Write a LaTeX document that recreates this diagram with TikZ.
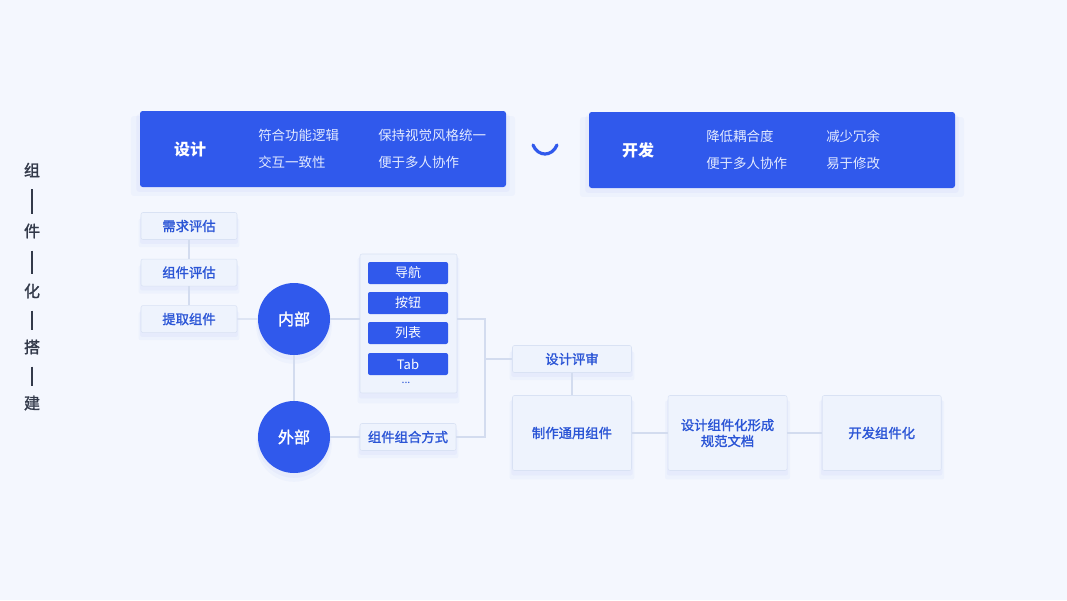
\documentclass[tikz,border=0pt]{standalone}
\usepackage{fontspec}
\setmainfont{Noto Sans CJK SC}
\newfontfamily\medfont{Noto Sans CJK SC}[FakeBold=1.6]
\usetikzlibrary{positioning, shadows}
\definecolor{bgpale}{HTML}{F4F7FE}
\definecolor{kitblue}{HTML}{3059EC}
\definecolor{kitline}{HTML}{D3DCEF}
\definecolor{kitfill}{HTML}{EEF3FD}
\definecolor{kitedge}{HTML}{D9E2F4}
\definecolor{kittext}{HTML}{2B55D6}
\definecolor{kitdark}{HTML}{333A4A}
\definecolor{headtext}{HTML}{E3EAFF}

\begin{document}
\begin{tikzpicture}[
    x=0.75pt, y=-0.75pt,
    softshadow/.style={drop shadow={shadow xshift=0pt, shadow yshift=-3pt, shadow scale=1.02, opacity=0.04, fill=kitblue},
                       drop shadow={shadow xshift=0pt, shadow yshift=-5pt, shadow scale=1.05, opacity=0.03, fill=kitblue}},
    headbox/.style={rectangle, fill=kitblue, rounded corners=2pt, minimum width=274.5pt, minimum height=57pt, softshadow},
    headtitle/.style={text=white, font=\fontsize{12}{14}\selectfont\bfseries},
    headitem/.style={anchor=west, inner sep=0pt, text=headtext, font=\fontsize{10.1}{12}\selectfont},
    stepbox/.style={rectangle, draw=kitedge, fill=kitfill, rounded corners=1.5pt, minimum width=72pt, minimum height=20.25pt, inner sep=0pt, text=kittext, font=\fontsize{10}{12}\selectfont\medfont, softshadow},
    bigbox/.style={stepbox, minimum width=89.25pt, minimum height=56.25pt, align=center},
    hub/.style={circle, fill=kitblue, minimum size=54pt, inner sep=0pt, text=white, font=\fontsize{12}{14}\selectfont\medfont, softshadow},
    chip/.style={rectangle, fill=kitblue, rounded corners=1.5pt, minimum width=60pt, minimum height=16.5pt, inner sep=0pt, text=white, font=\fontsize{9.75}{11}\selectfont},
    vchar/.style={inner sep=0pt, text=kitdark, font=\fontsize{12}{14}\selectfont\medfont},
    link/.style={draw=kitline, line width=1pt},
    vbar/.style={draw=kitdark, line width=0.9pt, shorten <=9pt, shorten >=7pt}
]
\fill[bgpale] (0,0) rectangle (1067,600);

% heading boxes
\node[headbox] (design) at (323,149) {};
\node[headbox] (develop) at (772,150) {};
\node[headtitle] (designname) at (190,149) {设计};
\node[headitem] (d1) at (258,135) {符合功能逻辑};
\node[headitem] (d2) at (378,135) {保持视觉风格统一};
\node[headitem] (d3) at (258,162) {交互一致性};
\node[headitem] (d4) at (378,162) {便于多人协作};
\node[headtitle] (developname) at (638,150) {开发};
\node[headitem] (e1) at (706,136) {降低耦合度};
\node[headitem] (e2) at (826,136) {减少冗余};
\node[headitem] (e3) at (706,163) {便于多人协作};
\node[headitem] (e4) at (826,163) {易于修改};
\draw[kitblue, line width=2.4pt, line cap=round] (533,145) .. controls (538,157) and (552,157) .. (557,145);

% left title
\node[vchar] (v1) at (32,170) {组};
\node[vchar] (v2) at (32,231) {件};
\node[vchar] (v3) at (32,291) {化};
\node[vchar] (v4) at (32,347) {搭};
\node[vchar] (v5) at (32,403) {建};
\foreach \a/\b in {v1/v2, v2/v3, v3/v4, v4/v5}
    \draw[vbar] (\a) -- (\b);

% inner branch
\node[stepbox] (need) at (189,226) {需求评估};
\node[stepbox, below=14.25pt of need] (assess) {组件评估};
\node[stepbox, below=14.25pt of assess] (extract) {提取组件};
\node[hub] (inner) at (294,319) {内部};
\node[hub] (outer) at (294,437) {外部};

\node[stepbox, minimum width=72.75pt, minimum height=104.25pt] (panel) at (408.5,323.5) {};
\node[chip] (nav) at (408,273) {导航};
\node[chip] (btn) at (408,303) {按钮};
\node[chip] (list) at (408,333) {列表};
\node[chip] (tab) at (408,364) {Tab};
\node[text=kittext, inner sep=0pt, font=\fontsize{8}{9}\selectfont] (more) at (406,383) {...};
\node[stepbox] (combo) at (408,437) {组件组合方式};

% review and output
\coordinate (joint) at (485,359);
\node[stepbox, minimum width=89.25pt] (review) at (572,359) {设计评审};
\node[bigbox] (make) at (572,433) {制作通用组件};
\node[bigbox, right=27pt of make] (spec) {设计组件化形成\\规范文档};
\node[bigbox, right=26pt of spec] (devkit) {开发组件化};

\draw[link] (need) -- (assess);
\draw[link] (assess) -- (extract);
\draw[link] (extract) -- (inner);
\draw[link] (inner) -- (outer);
\draw[link] (inner) -- (inner -| panel.west);
\draw[link] (outer) -- (combo);
\draw[link] (inner -| panel.east) -| (joint);
\draw[link] (combo.east) -| (joint);
\draw[link] (joint) -- (review);
\draw[link] (review) -- (make);
\draw[link] (make) -- (spec);
\draw[link] (spec) -- (devkit);
\end{tikzpicture}
\end{document}
